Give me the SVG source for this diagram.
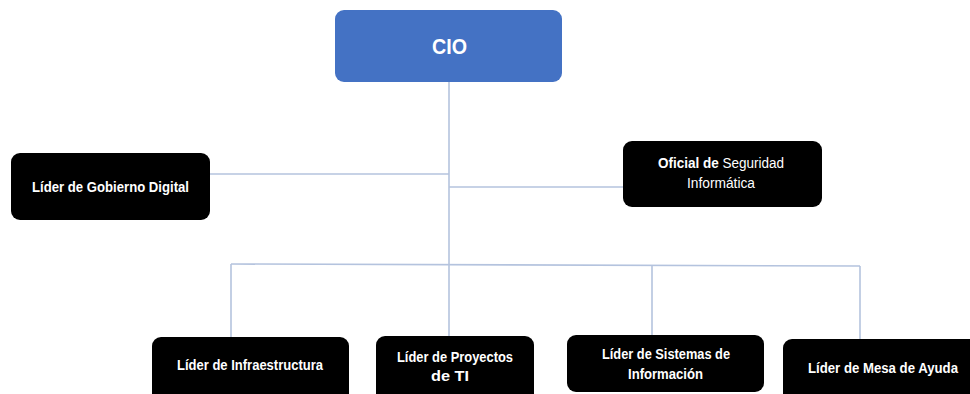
<svg xmlns="http://www.w3.org/2000/svg" width="970" height="394" viewBox="0 0 970 394">
  <style>
    .box { fill: #000000; }
    .head { fill: #4472C4; }
    .lbl { font-family: "Liberation Sans", Arial, sans-serif; font-size: 14px; font-weight: bold; fill: #ffffff; text-anchor: middle; }
    .reg { font-weight: normal; }
    .wire { stroke: #B4C3DE; stroke-width: 1.6; fill: none; }
  </style>
  <rect width="970" height="394" fill="#ffffff"/>

  <!-- connectors -->
  <g id="connectors" class="wire">
    <path d="M449 82 V264"/>
    <path d="M210 174 H449"/>
    <path d="M449 187 H623"/>
    <path d="M231 264 L860 266"/>
    <path d="M231 264 V337"/>
    <path d="M449 264 V336"/>
    <path d="M652 265 V335"/>
    <path d="M860 266 V339"/>
  </g>

  <g id="cio">
    <rect class="head" x="335" y="10" width="227" height="72" rx="9"/>
    <text class="lbl" x="449.5" y="54" style="font-size:22px" textLength="35" lengthAdjust="spacingAndGlyphs">CIO</text>
  </g>

  <g id="gobierno-digital">
    <rect class="box" x="11" y="153" width="199" height="67" rx="9"/>
    <text class="lbl" x="110.5" y="192" textLength="157" lengthAdjust="spacingAndGlyphs">Líder de Gobierno  Digital</text>
  </g>

  <g id="seguridad">
    <rect class="box" x="623" y="141" width="199" height="66" rx="9"/>
    <text class="lbl" x="721" y="168" textLength="126" lengthAdjust="spacingAndGlyphs">Oficial de <tspan class="reg">Seguridad</tspan></text>
    <text class="lbl reg" x="721" y="188" textLength="68" lengthAdjust="spacingAndGlyphs">Informática</text>
  </g>

  <g id="infraestructura">
    <rect class="box" x="152" y="337" width="197" height="70" rx="9"/>
    <text class="lbl" x="250" y="370" textLength="146" lengthAdjust="spacingAndGlyphs">Líder de Infraestructura</text>
  </g>

  <g id="proyectos">
    <rect class="box" x="376" y="336" width="158" height="70" rx="9"/>
    <text class="lbl" x="455" y="362" textLength="116" lengthAdjust="spacingAndGlyphs">Líder de Proyectos</text>
    <text class="lbl" x="450" y="381" textLength="38" lengthAdjust="spacingAndGlyphs">de TI</text>
  </g>

  <g id="sistemas">
    <rect class="box" x="567" y="335" width="197" height="57" rx="9"/>
    <text class="lbl" x="666" y="359" textLength="128" lengthAdjust="spacingAndGlyphs">Líder de Sistemas de</text>
    <text class="lbl" x="665.5" y="379" textLength="75" lengthAdjust="spacingAndGlyphs">Información</text>
  </g>

  <g id="mesa-ayuda">
    <rect class="box" x="783" y="339" width="195" height="70" rx="9"/>
    <text class="lbl" x="883" y="373" textLength="150" lengthAdjust="spacingAndGlyphs">Líder de Mesa de Ayuda</text>
  </g>
</svg>
